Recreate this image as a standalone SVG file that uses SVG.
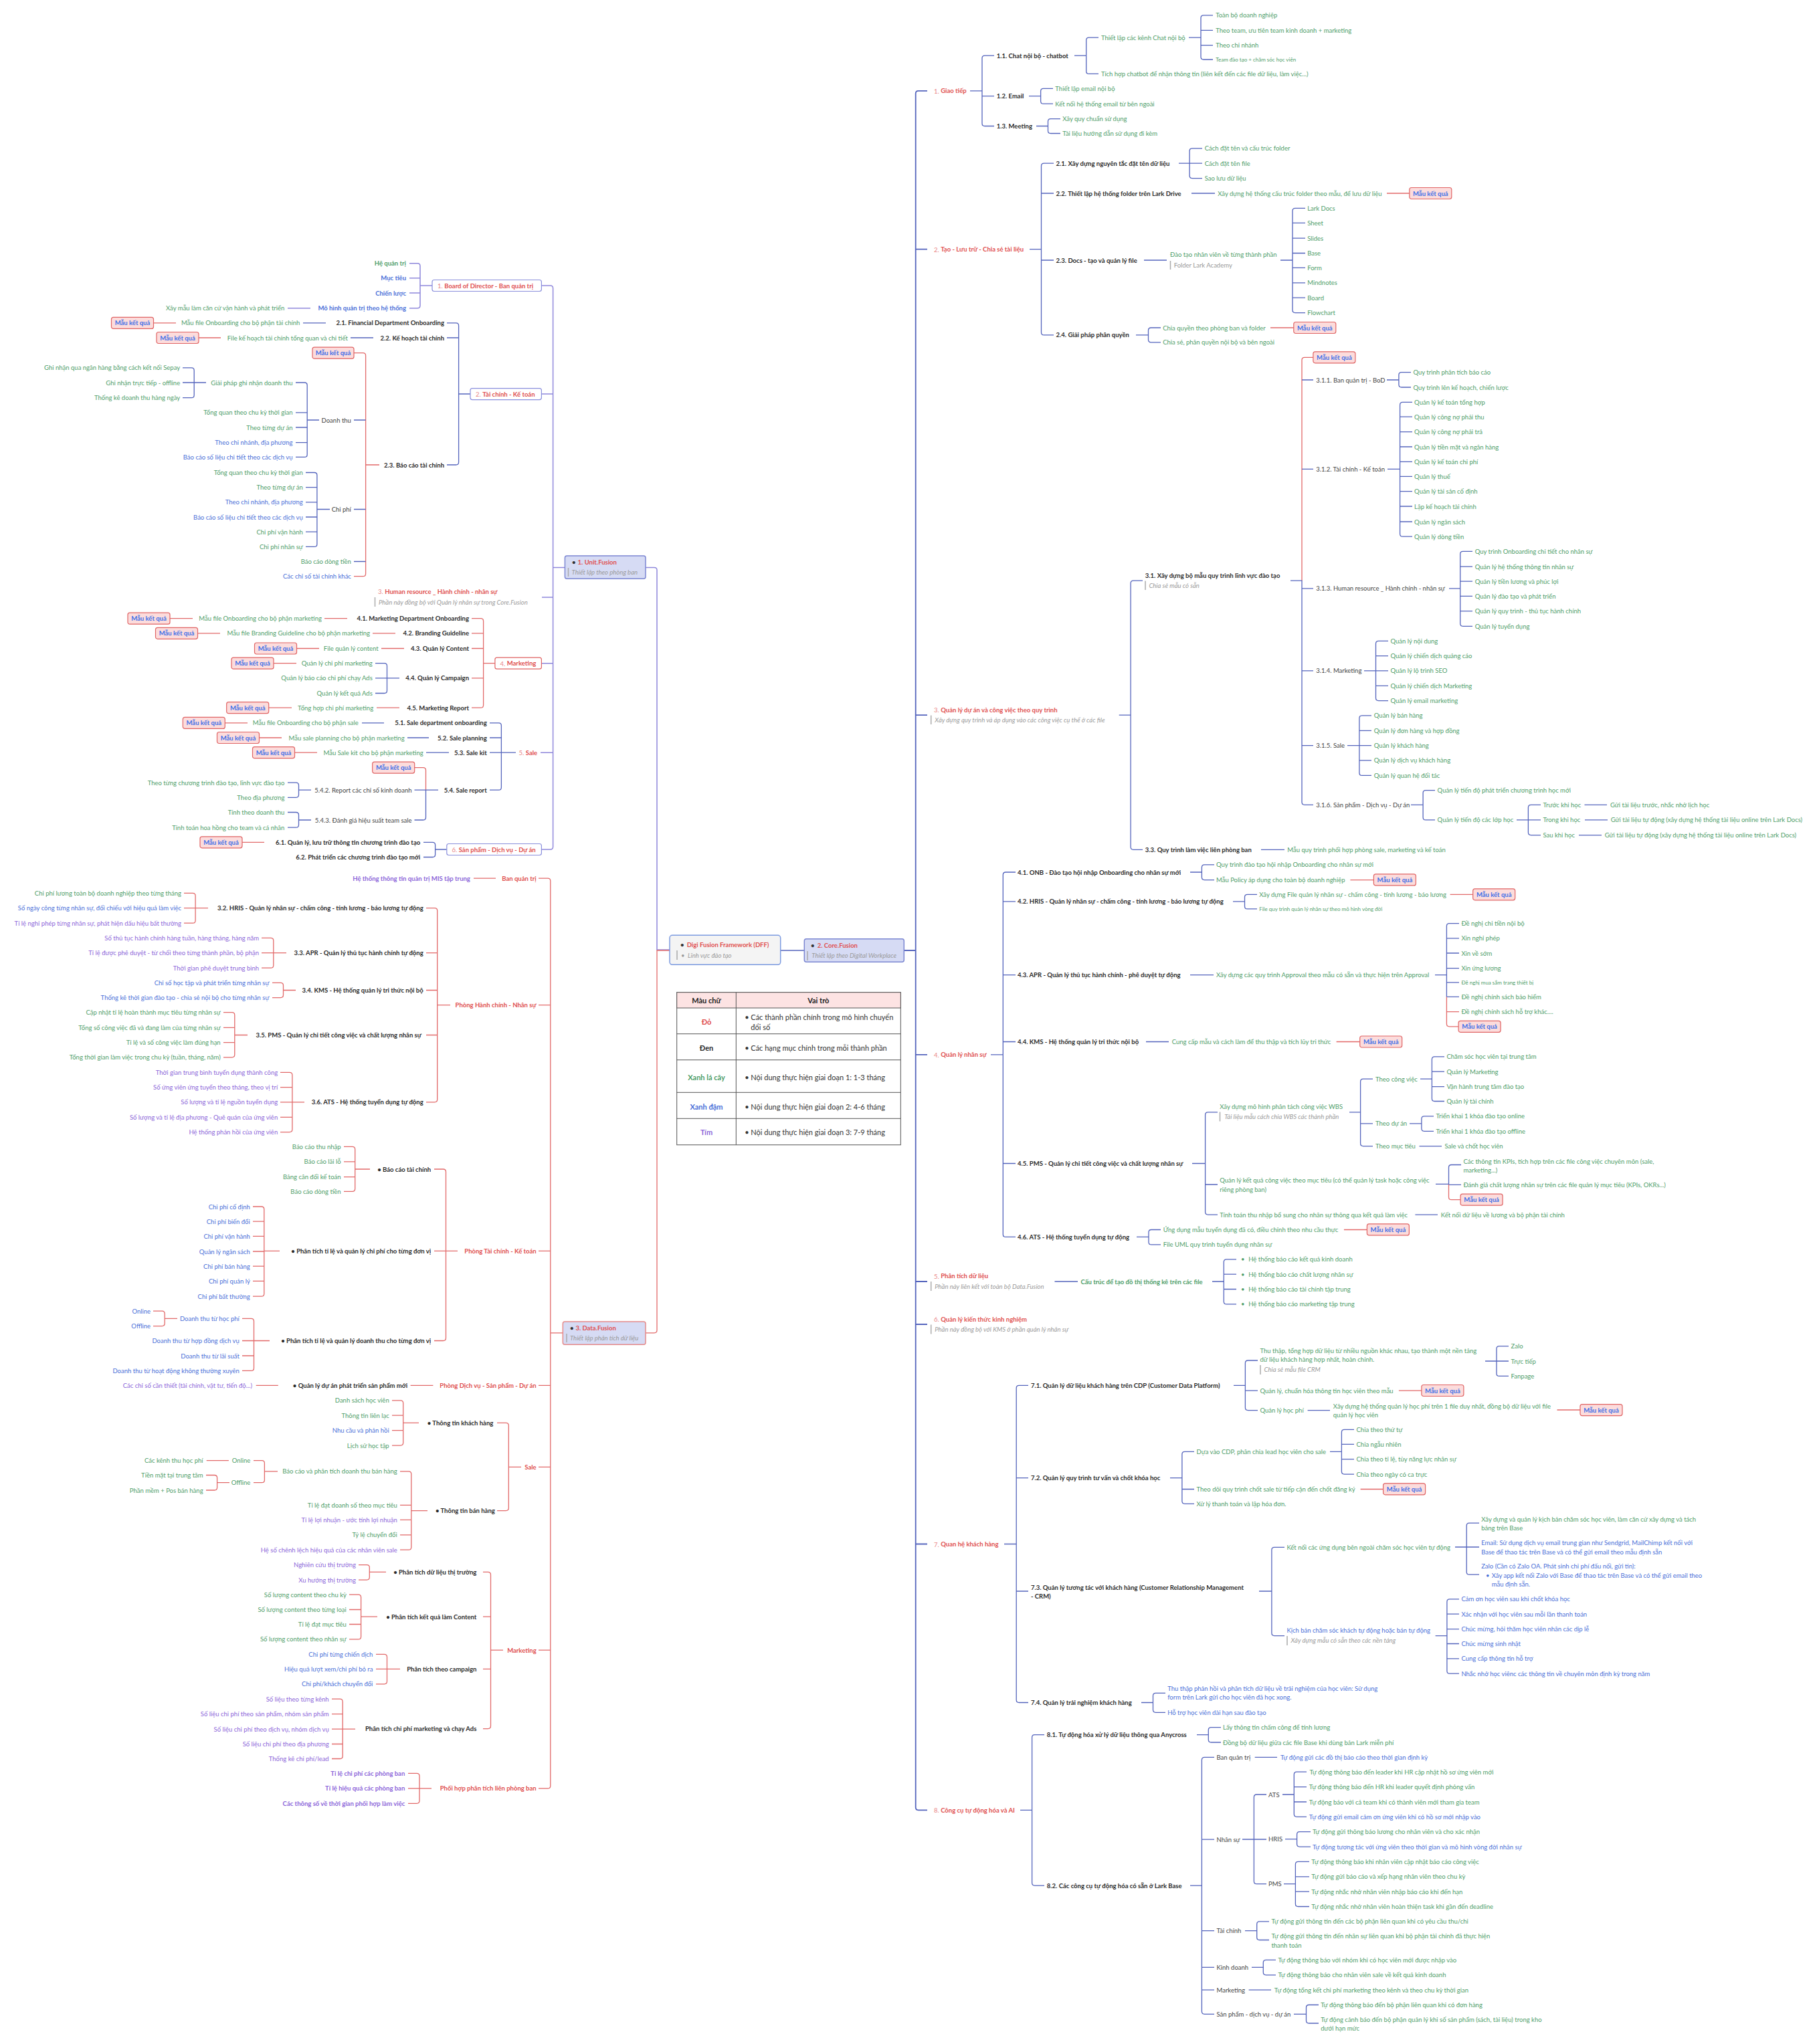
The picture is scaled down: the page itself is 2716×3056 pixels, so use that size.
<svg xmlns="http://www.w3.org/2000/svg" width="2716" height="3056" viewBox="0 0 2716 3056">
<style>
text{font-family:Lato,"Noto Sans","DejaVu Sans",sans-serif;font-size:9.5px;dominant-baseline:central;fill:#333}
.e{text-anchor:end}.mid{text-anchor:middle}
.g{fill:#4f9e6a}.b{fill:#4a6fd8}.p{fill:#8c66d9}.r{fill:#e04f4f;font-weight:700}.k{fill:#2b2b2b;font-weight:700}.d{fill:#444}.n{fill:#9a9a9a;font-style:italic}.B{font-weight:700}.l{fill:#e98686;font-weight:400}.s8{font-size:8px}
.c{fill:none;stroke:#5565bd;stroke-width:1.3}.cr{fill:none;stroke:#e26a6a;stroke-width:1.3}.cp{fill:none;stroke:#8f88db;stroke-width:1.5}.bar{stroke:#aaa;stroke-width:1.5}
.mk rect{fill:#fcdcdc;stroke:#e06464;stroke-width:1.2}.mk text{fill:#3d6fe8;font-weight:700;text-anchor:middle}
.box{fill:#fff;stroke:#8a8fdc;stroke-width:1.2}.main{fill:#d6dbf4;stroke:#7c87d2;stroke-width:1.5}
.tb text{font-size:11px}
</style>
<rect width="2716" height="3056" fill="#fff"/>

<g id="connectors">
<!-- center -->
<path class="cp" d="M965,848.6 H978 Q982,848.6 982,852.6 V1420 H1001"/>
<path class="cr" d="M1001,1421 H982 V1988.8 Q982,1992.8 978,1992.8 H965"/>
<path class="c" d="M1167,1421 H1202"/>
<!-- Unit.Fusion -->
<path class="cp" d="M809,427 H822.6 Q826.6,427 826.6,431 V1266 Q826.6,1270 822.6,1270 H809 M809,589 H826.6 M810,893 H826.6 M809,991.7 H826.6 M808,1125.2 H826.6 M826.6,848.6 H844"/>
<path class="cp" d="M612,393.7 H624 Q628,393.7 628,397.7 V456.7 Q628,460.7 624,460.7 H612 M612,415.8 H628 M612,438 H628 M628,427 H646 M430,460.7 H464"/>
<path class="c" d="M668,482.9 H681.6 Q685.6,482.9 685.6,486.9 V691 Q685.6,695 681.6,695 H668 M668,505 H685.6 M685.6,589 H703 M453,482.9 H487 M524,505 H558"/>
<path class="cr" d="M229,482.9 H263 M296.6,505 H330"/>
<path class="cr" d="M529,527.7 H542.6 Q546.6,527.7 546.6,531.7 V857.7 Q546.6,861.7 542.6,861.7 H529 M546.6,695 H567"/>
<path class="c" d="M529,628 H546.6 M529,761.5 H546.6 M529,839.5 H546.6"/>
<path class="c" d="M442,572 H455.2 Q459.2,572 459.2,576 V679.4 Q459.2,683.4 455.2,683.4 H442 M442,616.9 H459.2 M442,639 H459.2 M442,661.7 H459.2 M459.2,628 H477"/>
<path class="c" d="M273,549.9 H286.2 Q290.2,549.9 290.2,553.9 V590.7 Q290.2,594.7 286.2,594.7 H273 M273,572 H308"/>
<path class="c" d="M457,706.5 H469.9 Q473.9,706.5 473.9,710.5 V813.4 Q473.9,817.4 469.9,817.4 H457 M457,728.7 H473.9 M457,750.9 H473.9 M457,773 H473.9 M457,795.2 H473.9 M473.9,761.5 H493"/>
<path class="cr" d="M705,924.7 H718.6 Q722.6,924.7 722.6,928.7 V1054.2 Q722.6,1058.2 718.6,1058.2 H705 M705,946.8 H722.6 M705,969.5 H722.6 M705,1013.9 H722.6 M722.6,991.7 H740 M485,924.7 H519 M557,946.8 H591 M570,969.5 H604 M563,1058.2 H597 M253.8,924.7 H288 M295.3,946.8 H329 M443.3,969.5 H477 M408.8,991.7 H443 M401.8,1058.2 H436"/>
<path class="c" d="M561,991.7 H574.5 Q578.5,991.7 578.5,995.7 V1032.5 Q578.5,1036.5 574.5,1036.5 H561 M561,1013.9 H597"/>
<path class="c" d="M732,1080.9 H745.4 Q749.4,1080.9 749.4,1084.9 V1177.2 Q749.4,1181.2 745.4,1181.2 H732 M732,1103 H749.4 M732,1125.2 H771 M541,1080.9 H574 M609,1103 H641 M637,1125.2 H671"/>
<path class="cr" d="M336.1,1080.9 H370 M387.1,1103 H421 M440.1,1125.2 H474 M619.3,1147.6 H632.5 Q636.5,1147.6 636.5,1151.6 V1181.2 M361.6,1259.3 H395"/>
<path class="c" d="M636.5,1181.2 V1222 Q636.5,1226 632.5,1226 H619.5 M619.5,1181.2 H655"/>
<path class="c" d="M430,1170.2 H442.5 Q446.5,1170.2 446.5,1174.2 V1188.3 Q446.5,1192.3 442.5,1192.3 H430 M446.5,1181.2 H465 M430,1214.5 H442.5 Q446.5,1214.5 446.5,1218.5 V1233.2 Q446.5,1237.2 442.5,1237.2 H430 M446.5,1226 H465"/>
<path class="c" d="M633,1259.3 H646.6 Q650.6,1259.3 650.6,1263.3 V1277.5 Q650.6,1281.5 646.6,1281.5 H633 M650.6,1270 H668"/>
<!-- Data.Fusion -->
<path class="cr" d="M805,1313.2 H818.8 Q822.8,1313.2 822.8,1317.2 V2669.9 Q822.8,2673.9 818.8,2673.9 H805 M805,1502.7 H822.8 M805,1870.4 H822.8 M805,2071.3 H822.8 M805,2193.3 H822.8 M805,2467.2 H822.8 M822.8,1992.8 H841 M708,1313.2 H741"/>
<path class="cr" d="M637,1357.6 H649.7 Q653.7,1357.6 653.7,1361.6 V1643.8 Q653.7,1647.8 649.7,1647.8 H637 M637,1424.6 H653.7 M637,1480.5 H653.7 M637,1547.5 H653.7 M653.7,1502.7 H673"/>
<path class="cr" d="M275,1335.4 H288.1 Q292.1,1335.4 292.1,1339.4 V1376.2 Q292.1,1380.2 288.1,1380.2 H275 M275,1357.6 H311"/>
<path class="cr" d="M391,1402.4 H404.8 Q408.8,1402.4 408.8,1406.4 V1443.2 Q408.8,1447.2 404.8,1447.2 H391 M391,1424.6 H428"/>
<path class="cr" d="M407,1469.4 H419.5 Q423.5,1469.4 423.5,1473.4 V1487.6 Q423.5,1491.6 419.5,1491.6 H407 M423.5,1480.5 H442"/>
<path class="cr" d="M334,1513.7 H346.8 Q350.8,1513.7 350.8,1517.7 V1576.8 Q350.8,1580.8 346.8,1580.8 H334 M334,1536.4 H350.8 M334,1558.6 H350.8 M350.8,1547.5 H370"/>
<path class="cr" d="M419,1603.4 H432.9 Q436.9,1603.4 436.9,1607.4 V1688.6 Q436.9,1692.6 432.9,1692.6 H419 M419,1625.6 H436.9 M419,1647.8 H455 M419,1670.4 H436.9"/>
<path class="cr" d="M649,1748 H662.5 Q666.5,1748 666.5,1752 V2000.5 Q666.5,2004.5 662.5,2004.5 H649 M649,1870.4 H684"/>
<path class="cr" d="M514,1714.3 H526.7 Q530.7,1714.3 530.7,1718.3 V1777.3 Q530.7,1781.3 526.7,1781.3 H514 M514,1736.9 H530.7 M514,1759.6 H530.7 M530.7,1748 H553"/>
<path class="cr" d="M378,1804 H390.8 Q394.8,1804 394.8,1808 V1934.2 Q394.8,1938.2 390.8,1938.2 H378 M378,1826.1 H394.8 M378,1848.3 H394.8 M378,1871 H394.8 M378,1893.1 H394.8 M378,1915.3 H394.8 M394.8,1870.4 H418"/>
<path class="cr" d="M362,1971.3 H375.5 Q379.5,1971.3 379.5,1975.3 V2045.4 Q379.5,2049.4 375.5,2049.4 H362 M362,2004.5 H403 M362,2027 H379.5"/>
<path class="cr" d="M229,1960.1 H242.2 Q246.2,1960.1 246.2,1964.1 V1978.6 Q246.2,1982.6 242.2,1982.6 H229 M246.2,1971.3 H265"/>
<path class="cr" d="M613.6,2071.3 H647.4 M382.7,2071.3 H415.8"/>
<path class="cr" d="M743,2127.4 H756.3 Q760.3,2127.4 760.3,2131.4 V2254.6 Q760.3,2258.6 756.3,2258.6 H743 M760.3,2193.3 H779"/>
<path class="cr" d="M586,2093.8 H598.7 Q602.7,2093.8 602.7,2097.8 V2157.1 Q602.7,2161.1 598.7,2161.1 H586 M586,2116.2 H602.7 M586,2138.7 H602.7 M602.7,2127.4 H626"/>
<path class="cr" d="M598,2199.9 H610.8 Q614.8,2199.9 614.8,2203.9 V2313.2 Q614.8,2317.2 610.8,2317.2 H598 M598,2250.4 H614.8 M598,2272.3 H614.8 M598,2294.8 H614.8 M614.8,2258.6 H639"/>
<path class="cr" d="M379,2183.6 H391.4 Q395.4,2183.6 395.4,2187.6 V2212.7 Q395.4,2216.7 391.4,2216.7 H379 M395.4,2199.9 H415 M308.7,2183.6 H341.9"/>
<path class="cr" d="M308,2205.5 H320.6 Q324.6,2205.5 324.6,2209.5 V2224 Q324.6,2228 320.6,2228 H308 M324.6,2216.7 H343"/>
<path class="cr" d="M722,2350.4 H729.5 Q733.5,2350.4 733.5,2354.4 V2580.6 Q733.5,2584.6 729.5,2584.6 H722 M722,2417.2 H733.5 M722,2495.3 H733.5 M733.5,2467.2 H752"/>
<path class="cr" d="M536,2339.7 H548.3 Q552.3,2339.7 552.3,2343.7 V2358.1 Q552.3,2362.1 548.3,2362.1 H536 M552.3,2350.4 H577"/>
<path class="cr" d="M522,2384.1 H535.6 Q539.6,2384.1 539.6,2388.1 V2446.9 Q539.6,2450.9 535.6,2450.9 H522 M522,2406.5 H539.6 M522,2428.5 H539.6 M539.6,2417.2 H564"/>
<path class="cr" d="M562,2473.4 H574.5 Q578.5,2473.4 578.5,2477.4 V2513.8 Q578.5,2517.8 574.5,2517.8 H562 M562,2495.3 H598"/>
<path class="cr" d="M496,2540.2 H508.2 Q512.2,2540.2 512.2,2544.2 V2625.5 Q512.2,2629.5 508.2,2629.5 H496 M496,2562.6 H512.2 M496,2585.1 H531 M496,2607.5 H512.2"/>
<path class="cr" d="M610,2651.4 H623 Q627,2651.4 627,2655.4 V2692.3 Q627,2696.3 623,2696.3 H610 M610,2673.9 H645"/>
<!-- Core.Fusion -->
<path class="c" style="stroke-width:1.8" d="M1386,135.8 H1372.7 Q1368.7,135.8 1368.7,139.8 V2702.3 Q1368.7,2706.3 1372.7,2706.3 H1386 M1368.7,372.6 H1386 M1368.7,1069.2 H1386 M1368.7,1576.9 H1386 M1368.7,1916 H1386 M1368.7,1980 H1386 M1368.7,2308.5 H1386 M1351,1421 H1368.7"/>
<path class="c" d="M1486,83.1 H1472 Q1468,83.1 1468,87.1 V184.5 Q1468,188.5 1472,188.5 H1486 M1468,143.7 H1486 M1450,135.8 H1468"/>
<path class="c" d="M1642,56.2 H1627.7 Q1623.7,56.2 1623.7,60.2 V106.4 Q1623.7,110.4 1627.7,110.4 H1642 M1606,83.1 H1623.7"/>
<path class="c" d="M1813,22.9 H1799 Q1795,22.9 1795,26.9 V85 Q1795,89 1799,89 H1813 M1795,45.3 H1813 M1795,67.6 H1813 M1777,56.2 H1795"/>
<path class="c" d="M1574,132.3 H1559.6 Q1555.6,132.3 1555.6,136.3 V151.2 Q1555.6,155.2 1559.6,155.2 H1574 M1538,143.7 H1555.6"/>
<path class="c" d="M1585,177.6 H1570.5 Q1566.5,177.6 1566.5,181.6 V195.5 Q1566.5,199.5 1570.5,199.5 H1585 M1549,188.5 H1566.5"/>
<path class="c" d="M1575,244.2 H1560.5 Q1556.5,244.2 1556.5,248.2 V496.9 Q1556.5,500.9 1560.5,500.9 H1575 M1556.5,289 H1575 M1556.5,389 H1575 M1539,372.6 H1556.5"/>
<path class="c" d="M1797,221.8 H1782.1 Q1778.1,221.8 1778.1,225.8 V262.6 Q1778.1,266.6 1782.1,266.6 H1797 M1762,244.2 H1797 M1781,289 H1816 M1710,389 H1744"/>
<path class="cr" d="M2073,289 H2107 M1899,490 H1934"/>
<path class="c" d="M1951,311.4 H1936 Q1932,311.4 1932,315.4 V463.6 Q1932,467.6 1936,467.6 H1951 M1932,333.3 H1951 M1932,356.1 H1951 M1932,378.5 H1951 M1932,400.4 H1951 M1932,422.8 H1951 M1932,445.2 H1951 M1914,389 H1932"/>
<path class="c" d="M1735,490 H1720.5 Q1716.5,490 1716.5,494 V507.8 Q1716.5,511.8 1720.5,511.8 H1735 M1698,500.9 H1716.5"/>
<path class="c" d="M1708,868.2 H1694.1 Q1690.1,868.2 1690.1,872.2 V1266.3 Q1690.1,1270.3 1694.1,1270.3 H1708 M1672.7,1069.2 H1690.1 M1885,1270.3 H1920"/>
<path class="cr" d="M1963,534.3 H1950 Q1946,534.3 1946,538.3 V868.2"/>
<path class="c" d="M1946,568 H1963 M1946,701.3 H1963 M1929,868.2 H1946 V1199.3 Q1946,1203.3 1950,1203.3 H1963 M1946,879.8 H1963 M1946,1002.8 H1963 M1946,1114.6 H1963"/>
<path class="c" d="M2109,556.6 H2094.9 Q2090.9,556.6 2090.9,560.6 V575 Q2090.9,579 2094.9,579 H2109 M2073,568 H2090.9"/>
<path class="c" d="M2111,601.4 H2096.6 Q2092.6,601.4 2092.6,605.4 V798.2 Q2092.6,802.2 2096.6,802.2 H2111 M2092.6,623.2 H2111 M2092.6,645.6 H2111 M2092.6,668 H2111 M2092.6,690.4 H2111 M2092.6,712.3 H2111 M2092.6,734.6 H2111 M2092.6,757 H2111 M2092.6,780 H2111 M2074,701.3 H2092.6"/>
<path class="c" d="M2201,824.4 H2186.7 Q2182.7,824.4 2182.7,828.4 V932.3 Q2182.7,936.3 2186.7,936.3 H2201 M2182.7,847.1 H2201 M2182.7,869.2 H2201 M2182.7,891.4 H2201 M2182.7,913.6 H2201 M2166,879.8 H2182.7"/>
<path class="c" d="M2075,958.4 H2060.5 Q2056.5,958.4 2056.5,962.4 V1043.6 Q2056.5,1047.6 2060.5,1047.6 H2075 M2056.5,980.6 H2075 M2039,1002.8 H2075 M2056.5,1025.4 H2075"/>
<path class="c" d="M2050,1069.8 H2035.9 Q2031.9,1069.8 2031.9,1073.8 V1155.4 Q2031.9,1159.4 2035.9,1159.4 H2050 M2031.9,1092.4 H2050 M2014,1114.6 H2050 M2031.9,1136.8 H2050"/>
<path class="c" d="M2145,1181.6 H2131.1 Q2127.1,1181.6 2127.1,1185.6 V1221.9 Q2127.1,1225.9 2131.1,1225.9 H2145 M2109,1203.3 H2127.1"/>
<path class="c" d="M2303,1203.3 H2288.4 Q2284.4,1203.3 2284.4,1207.3 V1244.6 Q2284.4,1248.6 2288.4,1248.6 H2303 M2267,1225.9 H2303 M2368.5,1203.3 H2402 M2369,1225.9 H2403 M2360,1248.6 H2394"/>
<path class="c" d="M1518,1304 H1503.3 Q1499.3,1304 1499.3,1308 V1845.4 Q1499.3,1849.4 1503.3,1849.4 H1518 M1499.3,1347.9 H1518 M1499.3,1457.7 H1518 M1499.3,1557.5 H1518 M1499.3,1739.5 H1518 M1481,1576.9 H1499.3"/>
<path class="c" d="M1815,1292.9 H1800.4 Q1796.4,1292.9 1796.4,1296.9 V1311.6 Q1796.4,1315.6 1800.4,1315.6 H1815 M1779,1304 H1796.4"/>
<path class="c" d="M1879,1337.3 H1864.5 Q1860.5,1337.3 1860.5,1341.3 V1354.9 Q1860.5,1358.9 1864.5,1358.9 H1879 M1843,1347.9 H1860.5 M1779,1457.7 H1814 M1713,1557.5 H1747"/>
<path class="cr" d="M2018.4,1315.6 H2053.4 M2167.6,1337.3 H2201.7 M1997.6,1557.5 H2032.7 M2008.9,1838.5 H2043.4"/>
<path class="c" d="M2181,1380.6 H2166.4 Q2162.4,1380.6 2162.4,1384.6 V1490.4 M2162.4,1402.8 H2181 M2162.4,1425 H2181 M2162.4,1447.6 H2181 M2162.4,1468.8 H2181 M2162.4,1490.4 H2181 M2145,1457.7 H2162.4"/>
<path class="cr" d="M2162.4,1490.4 V1530.8 Q2162.4,1534.8 2166.4,1534.8 H2180 M2162.4,1512.6 H2181"/>
<path class="c" d="M1820,1662.9 H1805.6 Q1801.6,1662.9 1801.6,1666.9 V1812.1 Q1801.6,1816.1 1805.6,1816.1 H1820 M1801.6,1771 H1820 M1782,1739.5 H1801.6"/>
<path class="c" d="M2052,1613.2 H2037.6 Q2033.6,1613.2 2033.6,1617.2 V1709.6 Q2033.6,1713.6 2037.6,1713.6 H2052 M2033.6,1679.8 H2052 M2017,1662.9 H2033.6"/>
<path class="c" d="M2159,1579.8 H2144.4 Q2140.4,1579.8 2140.4,1583.8 V1642.5 Q2140.4,1646.5 2144.4,1646.5 H2159 M2140.4,1602.2 H2159 M2140.4,1624.6 H2159 M2123,1613.2 H2140.4"/>
<path class="c" d="M2143,1668.9 H2128.9 Q2124.9,1668.9 2124.9,1672.9 V1687.3 Q2124.9,1691.3 2128.9,1691.3 H2143 M2107,1679.8 H2124.9 M2121.5,1713.6 H2155"/>
<path class="c" d="M2184,1741.5 H2169.5 Q2165.5,1741.5 2165.5,1745.5 V1771 M2165.5,1771.3 H2184 M2146,1770.3 H2165.5 M2115.4,1816.1 H2149"/>
<path class="cr" d="M2165.5,1771 V1789.7 Q2165.5,1793.7 2169.5,1793.7 H2183"/>
<path class="c" d="M1735,1838.5 H1721 Q1717,1838.5 1717,1842.5 V1856.9 Q1717,1860.9 1721,1860.9 H1735 M1699,1849.4 H1717"/>
<path class="c" d="M1576.5,1916 H1611 M1848,1882.8 H1833.3 Q1829.3,1882.8 1829.3,1886.8 V1945.9 Q1829.3,1949.9 1833.3,1949.9 H1848 M1829.3,1905.1 H1848 M1829.3,1927.5 H1848 M1812,1916 H1829.3"/>
<path class="c" d="M1537,2071.3 H1523.2 Q1519.2,2071.3 1519.2,2075.3 V2541.5 Q1519.2,2545.5 1523.2,2545.5 H1537 M1519.2,2209.6 H1537 M1519.2,2379 H1537 M1501,2308.5 H1519.2"/>
<path class="c" d="M1880,2034 H1865.4 Q1861.4,2034 1861.4,2038 V2104.6 Q1861.4,2108.6 1865.4,2108.6 H1880 M1861.4,2079.2 H1880 M1844,2071.3 H1861.4"/>
<path class="c" d="M2255,2012.6 H2241 Q2237,2012.6 2237,2016.6 V2053.4 Q2237,2057.4 2241,2057.4 H2255 M2220,2035 H2255 M1954.6,2108.6 H1988"/>
<path class="cr" d="M2090.9,2079.2 H2125 M2327.5,2108 H2362 M2033.6,2226.5 H2067.6"/>
<path class="c" d="M1785,2170.3 H1770.9 Q1766.9,2170.3 1766.9,2174.3 V2244.3 Q1766.9,2248.3 1770.9,2248.3 H1785 M1766.9,2226.5 H1785 M1749,2209.6 H1766.9"/>
<path class="c" d="M2024,2137.4 H2009.4 Q2005.4,2137.4 2005.4,2141.4 V2200.1 Q2005.4,2204.1 2009.4,2204.1 H2024 M2005.4,2159.3 H2024 M2005.4,2181.7 H2024 M1988,2170.3 H2005.4"/>
<path class="c" d="M1920,2313.3 H1904.9 Q1900.9,2313.3 1900.9,2317.3 V2441.6 Q1900.9,2445.6 1904.9,2445.6 H1920 M1882,2379 H1900.9"/>
<path class="c" d="M2211,2277.2 H2196.2 Q2192.2,2277.2 2192.2,2281.2 V2350.2 Q2192.2,2354.2 2196.2,2354.2 H2211 M2175,2313 H2211"/>
<path class="c" d="M2181,2390.9 H2166.9 Q2162.9,2390.9 2162.9,2394.9 V2498.2 Q2162.9,2502.2 2166.9,2502.2 H2181 M2162.9,2413.2 H2181 M2162.9,2435.6 H2181 M2162.9,2457.5 H2181 M2162.9,2479.9 H2181 M2145.6,2445.6 H2162.9"/>
<path class="c" d="M1742,2531.3 H1727.5 Q1723.5,2531.3 1723.5,2535.3 V2556.3 Q1723.5,2560.3 1727.5,2560.3 H1742 M1706,2545.5 H1723.5"/>
<path class="c" d="M1561,2593.6 H1546.6 Q1542.6,2593.6 1542.6,2597.6 V2815.1 Q1542.6,2819.1 1546.6,2819.1 H1561 M1525,2706.3 H1542.6"/>
<path class="c" d="M1825,2582.6 H1810.3 Q1806.3,2582.6 1806.3,2586.6 V2601 Q1806.3,2605 1810.3,2605 H1825 M1789,2593.6 H1806.3"/>
<path class="c" d="M1815,2627.4 H1800.4 Q1796.4,2627.4 1796.4,2631.4 V3007.3 Q1796.4,3011.3 1800.4,3011.3 H1815 M1796.4,2750.1 H1815 M1796.4,2886.7 H1815 M1796.4,2941.4 H1815 M1796.4,2975.2 H1815 M1779,2819.1 H1796.4 M1875.7,2627.4 H1909 M1866.6,2975.2 H1900"/>
<path class="c" d="M1893,2683 H1878.4 Q1874.4,2683 1874.4,2687 V2812.7 Q1874.4,2816.7 1878.4,2816.7 H1893 M1857,2750 H1893"/>
<path class="c" d="M1953,2649.2 H1938.3 Q1934.3,2649.2 1934.3,2653.2 V2712.3 Q1934.3,2716.3 1938.3,2716.3 H1953 M1934.3,2671.6 H1953 M1934.3,2694 H1953 M1917,2683 H1934.3"/>
<path class="c" d="M1959,2738.7 H1942.6 Q1938.6,2738.7 1938.6,2742.7 V2757.1 Q1938.6,2761.1 1942.6,2761.1 H1959 M1921,2749.6 H1938.6"/>
<path class="c" d="M1957,2783.4 H1940.4 Q1936.4,2783.4 1936.4,2787.4 V2846.5 Q1936.4,2850.5 1940.4,2850.5 H1957 M1936.4,2805.8 H1957 M1936.4,2828.1 H1957 M1919,2816.7 H1936.4"/>
<path class="c" d="M1897,2872.9 H1882.7 Q1878.7,2872.9 1878.7,2876.9 V2896.5 Q1878.7,2900.5 1882.7,2900.5 H1897 M1861,2886.7 H1878.7"/>
<path class="c" d="M1907,2930.4 H1892.3 Q1888.3,2930.4 1888.3,2934.4 V2948.8 Q1888.3,2952.8 1892.3,2952.8 H1907 M1871,2941.4 H1888.3"/>
<path class="c" d="M1971,2997.5 H1956.5 Q1952.5,2997.5 1952.5,3001.5 V3021 Q1952.5,3025 1956.5,3025 H1971 M1934,3011.3 H1952.5"/>
</g>

<g id="center">
<g id="dff">
<rect x="1001" y="1398.3" width="165.7" height="44" rx="4" fill="#f4f4f4" stroke="#7d9be0" stroke-width="1.5"/>
<text x="1017" y="1412.5" class="B">•</text><text x="1026.7" y="1412.5" class="r">Digi Fusion Framework (DFF)</text>
<line class="bar" x1="1012" y1="1421" x2="1012" y2="1435"/>
<text x="1018" y="1428" class="n">•</text><text x="1028" y="1428" class="n">Lĩnh vực đào tạo</text>
</g>
<g id="core">
<rect x="1202.3" y="1403.7" width="149" height="34.6" rx="3" class="main"/>
<text x="1212" y="1413" class="B">•</text><text x="1221.7" y="1413" class="r">2. Core.Fusion</text>
<line class="bar" x1="1207" y1="1422" x2="1207" y2="1436"/>
<text x="1213.3" y="1428.5" class="n">Thiết lập theo Digital Workplace</text>
</g>
<g id="unit">
<rect x="844.4" y="831" width="120.6" height="34.2" rx="3" class="main"/>
<text x="855" y="840" class="B">•</text><text x="863.6" y="840" class="r">1. Unit.Fusion</text>
<line class="bar" x1="849.5" y1="849" x2="849.5" y2="862"/>
<text x="854.6" y="855.7" class="n">Thiết lập theo phòng ban</text>
</g>
<g id="data">
<rect x="841.3" y="1976" width="123.7" height="34.2" rx="3" fill="#d6dbf4" stroke="#e58a8a" stroke-width="1.5"/>
<text x="852" y="1985.1" class="B">•</text><text x="860.4" y="1985.1" class="r">3. Data.Fusion</text>
<line class="bar" x1="847" y1="1994" x2="847" y2="2007"/>
<text x="852" y="2000.4" class="n">Thiết lập phân tích dữ liệu</text>
</g>
</g>

<g id="legend" class="tb">
<rect x="1011.7" y="1483.7" width="334.6" height="228" fill="#fff" stroke="#555"/>
<rect x="1011.7" y="1483.7" width="334.6" height="23.3" fill="#fde3e3" stroke="#555"/>
<path d="M1100.3,1483.7 V1711.7 M1011.7,1545.7 H1346.3 M1011.7,1584.7 H1346.3 M1011.7,1633.3 H1346.3 M1011.7,1672.3 H1346.3" stroke="#555" fill="none"/>
<text x="1056" y="1495.5" class="mid B" style="fill:#222">Màu chữ</text>
<text x="1223.3" y="1495.5" class="mid B" style="fill:#222">Vai trò</text>
<text x="1056" y="1527.7" class="mid r">Đỏ</text>
<text x="1056" y="1566.7" class="mid k">Đen</text>
<text x="1056" y="1610" class="mid g B">Xanh lá cây</text>
<text x="1056" y="1654" class="mid b B">Xanh đậm</text>
<text x="1056" y="1692.7" class="mid p B">Tím</text>
<text x="1113.3" y="1520.5">•</text><text x="1122.3" y="1520.5">Các thành phần chính trong mô hình chuyển</text>
<text x="1122.3" y="1535">đổi số</text>
<text x="1113.3" y="1566">•</text><text x="1122.3" y="1566">Các hạng mục chính trong mỗi thành phần</text>
<text x="1113.3" y="1610">•</text><text x="1122.3" y="1610">Nội dung thực hiện giai đoạn 1: 1-3 tháng</text>
<text x="1113.3" y="1654">•</text><text x="1122.3" y="1654">Nội dung thực hiện giai đoạn 2: 4-6 tháng</text>
<text x="1113.3" y="1692.7">•</text><text x="1122.3" y="1692.7">Nội dung thực hiện giai đoạn 3: 7-9 tháng</text>
</g>

<g id="mau-ket-qua">
<g class="mk" transform="translate(166.5,482.9)"><rect y="-8.5" width="63" height="17" rx="3"/><text x="31.5">Mẫu kết quả</text></g>
<g class="mk" transform="translate(234,505)"><rect y="-8.5" width="63" height="17" rx="3"/><text x="31.5">Mẫu kết quả</text></g>
<g class="mk" transform="translate(467,527.7)"><rect y="-8.5" width="62" height="17" rx="3"/><text x="31">Mẫu kết quả</text></g>
<g class="mk" transform="translate(191,924.7)"><rect y="-8.5" width="63" height="17" rx="3"/><text x="31.5">Mẫu kết quả</text></g>
<g class="mk" transform="translate(232.5,946.8)"><rect y="-8.5" width="63" height="17" rx="3"/><text x="31.5">Mẫu kết quả</text></g>
<g class="mk" transform="translate(380.5,969.5)"><rect y="-8.5" width="63" height="17" rx="3"/><text x="31.5">Mẫu kết quả</text></g>
<g class="mk" transform="translate(346,991.7)"><rect y="-8.5" width="63" height="17" rx="3"/><text x="31.5">Mẫu kết quả</text></g>
<g class="mk" transform="translate(338.7,1058.2)"><rect y="-8.5" width="63" height="17" rx="3"/><text x="31.5">Mẫu kết quả</text></g>
<g class="mk" transform="translate(273.3,1080.9)"><rect y="-8.5" width="63" height="17" rx="3"/><text x="31.5">Mẫu kết quả</text></g>
<g class="mk" transform="translate(324.5,1103)"><rect y="-8.5" width="63" height="17" rx="3"/><text x="31.5">Mẫu kết quả</text></g>
<g class="mk" transform="translate(377.5,1125.2)"><rect y="-8.5" width="63" height="17" rx="3"/><text x="31.5">Mẫu kết quả</text></g>
<g class="mk" transform="translate(556.7,1147.6)"><rect y="-8.5" width="63" height="17" rx="3"/><text x="31.5">Mẫu kết quả</text></g>
<g class="mk" transform="translate(299,1259.3)"><rect y="-8.5" width="63" height="17" rx="3"/><text x="31.5">Mẫu kết quả</text></g>
<g class="mk" transform="translate(2106.8,289)"><rect y="-8.5" width="63" height="17" rx="3"/><text x="31.5">Mẫu kết quả</text></g>
<g class="mk" transform="translate(1933.8,490)"><rect y="-8.5" width="63" height="17" rx="3"/><text x="31.5">Mẫu kết quả</text></g>
<g class="mk" transform="translate(1962.9,534.3)"><rect y="-8.5" width="63" height="17" rx="3"/><text x="31.5">Mẫu kết quả</text></g>
<g class="mk" transform="translate(2053.4,1315.4)"><rect y="-8.5" width="63" height="17" rx="3"/><text x="31.5">Mẫu kết quả</text></g>
<g class="mk" transform="translate(2201.7,1337.3)"><rect y="-8.5" width="63" height="17" rx="3"/><text x="31.5">Mẫu kết quả</text></g>
<g class="mk" transform="translate(2180.1,1534.8)"><rect y="-8.5" width="63" height="17" rx="3"/><text x="31.5">Mẫu kết quả</text></g>
<g class="mk" transform="translate(2032.7,1557.5)"><rect y="-8.5" width="63" height="17" rx="3"/><text x="31.5">Mẫu kết quả</text></g>
<g class="mk" transform="translate(2183.1,1793.7)"><rect y="-8.5" width="63" height="17" rx="3"/><text x="31.5">Mẫu kết quả</text></g>
<g class="mk" transform="translate(2043.4,1838.4)"><rect y="-8.5" width="63" height="17" rx="3"/><text x="31.5">Mẫu kết quả</text></g>
<g class="mk" transform="translate(2124.9,2079)"><rect y="-8.5" width="63" height="17" rx="3"/><text x="31.5">Mẫu kết quả</text></g>
<g class="mk" transform="translate(2362,2108.1)"><rect y="-8.5" width="63" height="17" rx="3"/><text x="31.5">Mẫu kết quả</text></g>
<g class="mk" transform="translate(2067.6,2226.3)"><rect y="-8.5" width="63" height="17" rx="3"/><text x="31.5">Mẫu kết quả</text></g>
</g>

<g id="unit-fusion">
<g id="u-bod">
<rect x="646" y="418.5" width="163.4" height="17" rx="3" class="box"/>
<text x="654" y="427" class="r"><tspan class="l">1. </tspan>Board of Director - Ban quản trị</text>
<text x="607" y="393.7" class="e g B">Hệ quản trị</text>
<text x="607" y="415.8" class="e b B">Mục tiêu</text>
<text x="607" y="438" class="e b B">Chiến lược</text>
<text x="607" y="460.7" class="e b B">Mô hình quản trị theo hệ thống</text>
<text x="425.4" y="460.7" class="e g">Xây mẫu làm căn cứ vận hành và phát triển</text>
</g>
<g id="u-taichinh">
<rect x="703" y="580.6" width="106.4" height="17" rx="3" class="box"/>
<text x="711" y="589" class="r"><tspan class="l">2. </tspan>Tài chính - Kế toán</text>
<text x="664" y="482.9" class="e k">2.1. Financial Department Onboarding</text>
<text x="448.4" y="482.9" class="e g">Mẫu file Onboarding cho bộ phận tài chính</text>
<text x="664" y="505" class="e k">2.2. Kế hoạch tài chính</text>
<text x="519.8" y="505" class="e g">File kế hoạch tài chính tổng quan và chi tiết</text>
<text x="664" y="695" class="e k">2.3. Báo cáo tài chính</text>
<text x="524.9" y="628" class="e d">Doanh thu</text>
<text x="437.5" y="572" class="e g">Giải pháp ghi nhận doanh thu</text>
<text x="269.2" y="549.9" class="e g">Ghi nhận qua ngân hàng bằng cách kết nối Sepay</text>
<text x="269.2" y="572" class="e g">Ghi nhận trực tiếp - offline</text>
<text x="269.2" y="594.7" class="e g">Thống kê doanh thu hàng ngày</text>
<text x="437.5" y="616.9" class="e g">Tổng quan theo chu kỳ thời gian</text>
<text x="437.5" y="639" class="e g">Theo từng dự án</text>
<text x="437.5" y="661.7" class="e b">Theo chi nhánh, địa phương</text>
<text x="437.5" y="683.4" class="e b">Báo cáo số liệu chi tiết theo các dịch vụ</text>
<text x="524.9" y="761.5" class="e d">Chi phí</text>
<text x="452.8" y="706.5" class="e g">Tổng quan theo chu kỳ thời gian</text>
<text x="452.8" y="728.7" class="e g">Theo từng dự án</text>
<text x="452.8" y="750.9" class="e b">Theo chi nhánh, địa phương</text>
<text x="452.8" y="773" class="e b">Báo cáo số liệu chi tiết theo các dịch vụ</text>
<text x="452.8" y="795.2" class="e g">Chi phí vận hành</text>
<text x="452.8" y="817.4" class="e g">Chi phí nhân sự</text>
<text x="524.9" y="839.5" class="e g">Báo cáo dòng tiền</text>
<text x="524.9" y="861.7" class="e b">Các chỉ số tài chính khác</text>
</g>
<g id="u-hr">
<text x="565" y="884.4" class="r"><tspan class="l">3. </tspan>Human resource _ Hành chính - nhân sự</text>
<line class="bar" x1="560.5" y1="893" x2="560.5" y2="907"/>
<text x="566" y="900" class="n">Phần này đồng bộ với Quản lý nhân sự trong Core.Fusion</text>
</g>
<g id="u-marketing">
<rect x="739.9" y="983.2" width="69.5" height="17" rx="3" fill="#fff" stroke="#e06464" stroke-width="1.2"/>
<text x="747.5" y="991.7" class="r"><tspan class="l">4. </tspan>Marketing</text>
<text x="701" y="924.7" class="e k">4.1. Marketing Department Onboarding</text>
<text x="480.9" y="924.7" class="e g">Mẫu file Onboarding cho bộ phận marketing</text>
<text x="701" y="946.8" class="e k">4.2. Branding Guideline</text>
<text x="553" y="946.8" class="e g">Mẫu file Branding Guideline cho bộ phận marketing</text>
<text x="701" y="969.5" class="e k">4.3. Quản lý Content</text>
<text x="565.7" y="969.5" class="e g">File quản lý content</text>
<text x="701" y="1013.9" class="e k">4.4. Quản lý Campaign</text>
<text x="556.8" y="991.7" class="e g">Quản lý chi phí marketing</text>
<text x="556.8" y="1013.9" class="e g">Quản lý báo cáo chi phí chạy Ads</text>
<text x="556.8" y="1036.5" class="e g">Quản lý kết quả Ads</text>
<text x="701" y="1058.2" class="e k">4.5. Marketing Report</text>
<text x="558.1" y="1058.2" class="e g">Tổng hợp chi phí marketing</text>
</g>
<g id="u-sale">
<text x="775.6" y="1125.2" class="r"><tspan class="l">5. </tspan>Sale</text>
<text x="727.7" y="1080.9" class="e k">5.1. Sale department onboarding</text>
<text x="535.8" y="1080.9" class="e g">Mẫu file Onboarding cho bộ phận sale</text>
<text x="727.7" y="1103" class="e k">5.2. Sale planning</text>
<text x="604.6" y="1103" class="e g">Mẫu sale planning cho bộ phận marketing</text>
<text x="727.7" y="1125.2" class="e k">5.3. Sale kit</text>
<text x="632.7" y="1125.2" class="e g">Mẫu Sale kit cho bộ phận marketing</text>
<text x="727.7" y="1181.2" class="e k">5.4. Sale report</text>
<text x="615.5" y="1181.2" class="e d">5.4.2. Report các chỉ số kinh doanh</text>
<text x="425.4" y="1170.2" class="e g">Theo từng chương trình đào tạo, lĩnh vực đào tạo</text>
<text x="425.4" y="1192.3" class="e g">Theo địa phương</text>
<text x="615.5" y="1226" class="e d">5.4.3. Đánh giá hiệu suất team sale</text>
<text x="425.4" y="1214.5" class="e g">Tính theo doanh thu</text>
<text x="425.4" y="1237.2" class="e g">Tính toán hoa hồng cho team và cá nhân</text>
</g>
<g id="u-sanpham">
<rect x="667.8" y="1261.5" width="141.6" height="17" rx="3" class="box"/>
<text x="675.5" y="1270" class="r"><tspan class="l">6. </tspan>Sản phẩm - Dịch vụ - Dự án</text>
<text x="628.2" y="1259.3" class="e k">6.1. Quản lý, lưu trữ thông tin chương trình đào tạo</text>
<text x="628.2" y="1281.5" class="e k">6.2. Phát triển các chương trình đào tạo mới</text>
</g>
</g>

<g id="data-fusion">
<g id="d-bqt">
<text x="801.7" y="1313.2" class="e r">Ban quản trị</text>
<text x="702.9" y="1313.2" class="e p B">Hệ thống thông tin quản trị MIS tập trung</text>
</g>
<g id="d-hcns">
<text x="801.7" y="1502.7" class="e r">Phòng Hành chính - Nhân sự</text>
<text x="632.7" y="1357.6" class="e k">3.2. HRIS - Quản lý nhân sự - chấm công - tính lương - báo lương tự động</text>
<text x="271" y="1335.4" class="e g">Chi phí lương toàn bộ doanh nghiệp theo từng tháng</text>
<text x="271" y="1357.6" class="e b">Số ngày công từng nhân sự, đối chiếu với hiệu quả làm việc</text>
<text x="271" y="1380.2" class="e p">Tỉ lệ nghỉ phép từng nhân sự, phát hiện dấu hiệu bất thường</text>
<text x="632.7" y="1424.6" class="e k">3.3. APR - Quản lý thủ tục hành chính tự động</text>
<text x="387.1" y="1402.4" class="e p">Số thủ tục hành chính hàng tuần, hàng tháng, hàng năm</text>
<text x="387.1" y="1424.6" class="e p">Tỉ lệ được phê duyệt - từ chối theo từng thành phần, bộ phận</text>
<text x="387.1" y="1447.2" class="e p">Thời gian phê duyệt trung bình</text>
<text x="632.7" y="1480.5" class="e k">3.4. KMS - Hệ thống quản lý tri thức nội bộ</text>
<text x="402.5" y="1469.4" class="e b">Chỉ số học tập và phát triển từng nhân sự</text>
<text x="402.5" y="1491.6" class="e b">Thống kê thời gian đào tạo - chia sẻ nội bộ cho từng nhân sự</text>
<text x="630" y="1547.5" class="e k">3.5. PMS - Quản lý chi tiết công việc và chất lượng nhân sự</text>
<text x="329.7" y="1513.7" class="e g">Cập nhật tỉ lệ hoàn thành mục tiêu từng nhân sự</text>
<text x="329.7" y="1536.4" class="e g">Tổng số công việc đã và đang làm của từng nhân sự</text>
<text x="329.7" y="1558.6" class="e g">Tỉ lệ và số công việc làm đúng hạn</text>
<text x="329.7" y="1580.8" class="e g">Tổng thời gian làm việc trong chu kỳ (tuần, tháng, năm)</text>
<text x="632.7" y="1647.8" class="e k">3.6. ATS - Hệ thống tuyển dụng tự động</text>
<text x="415.2" y="1603.4" class="e p">Thời gian trung bình tuyển dụng thành công</text>
<text x="415.2" y="1625.6" class="e p">Số ứng viên ứng tuyển theo tháng, theo vị trí</text>
<text x="415.2" y="1647.8" class="e p">Số lượng và tỉ lệ nguồn tuyển dụng</text>
<text x="415.2" y="1670.4" class="e p">Số lượng và tỉ lệ địa phương - Quê quán của ứng viên</text>
<text x="415.2" y="1692.6" class="e p">Hệ thống phản hồi của ứng viên</text>
</g>
<g id="d-tckt">
<text x="801.7" y="1870.4" class="e r">Phòng Tài chính - Kế toán</text>
<text x="644.2" y="1748" class="e k">•  Báo cáo tài chính</text>
<text x="509.6" y="1714.3" class="e g">Báo cáo thu nhập</text>
<text x="509.6" y="1736.9" class="e g">Báo cáo lãi lỗ</text>
<text x="509.6" y="1759.6" class="e g">Bảng cân đối kế toán</text>
<text x="509.6" y="1781.3" class="e g">Báo cáo dòng tiền</text>
<text x="644.2" y="1870.4" class="e k">•  Phân tích tỉ lệ và quản lý chi phí cho từng đơn vị</text>
<text x="373.8" y="1804" class="e b">Chi phí cố định</text>
<text x="373.8" y="1826.1" class="e b">Chi phí biến đổi</text>
<text x="373.8" y="1848.3" class="e b">Chi phí vận hành</text>
<text x="373.8" y="1871" class="e b">Quản lý ngân sách</text>
<text x="373.8" y="1893.1" class="e b">Chi phí bán hàng</text>
<text x="373.8" y="1915.3" class="e b">Chi phí quản lý</text>
<text x="373.8" y="1938.2" class="e b">Chi phí bất thường</text>
<text x="644.2" y="2004.5" class="e k">•  Phân tích tỉ lệ và quản lý doanh thu cho từng đơn vị</text>
<text x="357.8" y="1971.3" class="e b">Doanh thu từ học phí</text>
<text x="225.1" y="1960.1" class="e b">Online</text>
<text x="225.1" y="1982.6" class="e b">Offline</text>
<text x="357.8" y="2004.5" class="e b">Doanh thu từ hợp đồng dịch vụ</text>
<text x="357.8" y="2027" class="e b">Doanh thu từ lãi suất</text>
<text x="357.8" y="2049.4" class="e b">Doanh thu từ hoạt động không thường xuyên</text>
</g>
<g id="d-dv">
<text x="801.7" y="2071.3" class="e r">Phòng Dịch vụ - Sản phẩm - Dự án</text>
<text x="609.1" y="2071.3" class="e k">•  Quản lý dự án phát triển sản phẩm mới</text>
<text x="377" y="2071.3" class="e p">Các chỉ số cần thiết (tài chính, vật tư, tiến độ...)</text>
</g>
<g id="d-sale">
<text x="801.7" y="2193.3" class="e r">Sale</text>
<text x="737.3" y="2127.4" class="e k">•  Thông tin khách hàng</text>
<text x="581.7" y="2093.8" class="e g">Danh sách học viên</text>
<text x="581.7" y="2116.2" class="e g">Thông tin liên lạc</text>
<text x="581.7" y="2138.7" class="e b">Nhu cầu và phản hồi</text>
<text x="581.7" y="2161.1" class="e g">Lịch sử học tập</text>
<text x="739.8" y="2258.6" class="e k">•  Thông tin bán hàng</text>
<text x="593.8" y="2199.9" class="e g">Báo cáo và phân tích doanh thu bán hàng</text>
<text x="374.4" y="2183.6" class="e g">Online</text>
<text x="303.6" y="2183.6" class="e g">Các kênh thu học phí</text>
<text x="374.4" y="2216.7" class="e g">Offline</text>
<text x="303.6" y="2205.5" class="e g">Tiền mặt tại trung tâm</text>
<text x="303.6" y="2228" class="e g">Phần mềm + Pos bán hàng</text>
<text x="593.8" y="2250.4" class="e g">Tỉ lệ đạt doanh số theo mục tiêu</text>
<text x="593.8" y="2272.3" class="e p">Tỉ lệ lợi nhuận - ước tính lợi nhuận</text>
<text x="593.8" y="2294.8" class="e g">Tỷ lệ chuyển đổi</text>
<text x="593.8" y="2317.2" class="e p">Hệ số chênh lệch hiệu quả của các nhân viên sale</text>
</g>
<g id="d-marketing">
<text x="801.7" y="2467.2" class="e r">Marketing</text>
<text x="712.4" y="2350.4" class="e k">•  Phân tích dữ liệu thị trường</text>
<text x="532" y="2339.7" class="e p">Nghiên cứu thị trường</text>
<text x="532" y="2362.1" class="e p">Xu hướng thị trường</text>
<text x="712.4" y="2417.2" class="e k">•  Phân tích kết quả làm Content</text>
<text x="517.9" y="2384.1" class="e g">Số lượng content theo chu kỳ</text>
<text x="517.9" y="2406.5" class="e g">Số lượng content theo từng loại</text>
<text x="517.9" y="2428.5" class="e g">Tỉ lệ đạt mục tiêu</text>
<text x="517.9" y="2450.9" class="e g">Số lượng content theo nhân sự</text>
<text x="712.4" y="2495.3" class="e k">Phân tích theo campaign</text>
<text x="557.4" y="2473.4" class="e b">Chi phí từng chiến dịch</text>
<text x="557.4" y="2495.3" class="e b">Hiệu quả lượt xem/chi phí bỏ ra</text>
<text x="557.4" y="2517.8" class="e b">Chi phí/khách chuyển đổi</text>
<text x="712.4" y="2584.6" class="e k">Phân tích chi phí marketing và chạy Ads</text>
<text x="491.7" y="2540.2" class="e p">Số liệu theo từng kênh</text>
<text x="491.7" y="2562.6" class="e p">Số liệu chi phí theo sản phẩm, nhóm sản phẩm</text>
<text x="491.7" y="2585.1" class="e p">Số liệu chi phí theo dịch vụ, nhóm dịch vụ</text>
<text x="491.7" y="2607.5" class="e p">Số liệu chi phí theo địa phương</text>
<text x="491.7" y="2629.5" class="e p">Thống kê chi phí/lead</text>
</g>
<g id="d-phoihop">
<text x="801.7" y="2673.9" class="e r">Phối hợp phân tích liên phòng ban</text>
<text x="605.3" y="2651.4" class="e p B">Tỉ lệ chi phí các phòng ban</text>
<text x="605.3" y="2673.9" class="e p B">Tỉ lệ hiệu quả các phòng ban</text>
<text x="605.3" y="2696.3" class="e p B">Các thông số về thời gian phối hợp làm việc</text>
</g>
</g>

<g id="core-fusion">
<g id="c1">
<text x="1396" y="135.8" class="r"><tspan class="l">1. </tspan>Giao tiếp</text>
<text x="1489.7" y="83.1" class="k">1.1. Chat nội bộ - chatbot</text>
<text x="1645.9" y="56.2" class="g">Thiết lập các kênh Chat nội bộ</text>
<text x="1817.2" y="22.9" class="g">Toàn bộ doanh nghiệp</text>
<text x="1817.2" y="45.3" class="g">Theo team, ưu tiên team kinh doanh + marketing</text>
<text x="1817.2" y="67.6" class="g">Theo chi nhánh</text>
<text x="1817.2" y="89" class="g s8">Team đào tạo + chăm sóc học viên</text>
<text x="1645.9" y="110.4" class="g">Tích hợp chatbot để nhận thông tin (liên kết đến các file dữ liệu, làm việc...)</text>
<text x="1489.7" y="143.7" class="k">1.2. Email</text>
<text x="1577.3" y="132.3" class="g">Thiết lập email nội bộ</text>
<text x="1577.3" y="155.2" class="g">Kết nối hệ thống email từ bên ngoài</text>
<text x="1489.7" y="188.5" class="k">1.3. Meeting</text>
<text x="1588.2" y="177.6" class="g">Xây quy chuẩn sử dụng</text>
<text x="1588.2" y="199.5" class="g">Tài liệu hướng dẫn sử dụng đi kèm</text>
</g>
<g id="c2">
<text x="1396" y="372.6" class="r"><tspan class="l">2. </tspan>Tạo - Lưu trữ - Chia sẻ tài liệu</text>
<text x="1578.6" y="244.2" class="k">2.1. Xây dựng nguyên tắc đặt tên dữ liệu</text>
<text x="1800.7" y="221.8" class="g">Cách đặt tên và cấu trúc folder</text>
<text x="1800.7" y="244.2" class="g">Cách đặt tên file</text>
<text x="1800.7" y="266.6" class="g">Sao lưu dữ liệu</text>
<text x="1578.6" y="289" class="k">2.2. Thiết lập hệ thống folder trên Lark Drive</text>
<text x="1820.2" y="289" class="g">Xây dựng hệ thống cấu trúc folder theo mẫu, để lưu dữ liệu</text>
<text x="1578.6" y="389" class="k">2.3. Docs - tạo và quản lý file</text>
<text x="1749" y="380.5" class="g">Đào tạo nhân viên về từng thành phần</text>
<line class="bar" x1="1749.5" y1="390" x2="1749.5" y2="403"/>
<text x="1754.7" y="396.4" style="fill:#9a9a9a">Folder Lark Academy</text>
<text x="1954.2" y="311.4" class="g">Lark Docs</text>
<text x="1954.2" y="333.3" class="g">Sheet</text>
<text x="1954.2" y="356.1" class="g">Slides</text>
<text x="1954.2" y="378.5" class="g">Base</text>
<text x="1954.2" y="400.4" class="g">Form</text>
<text x="1954.2" y="422.8" class="g">Mindnotes</text>
<text x="1954.2" y="445.2" class="g">Board</text>
<text x="1954.2" y="467.6" class="g">Flowchart</text>
<text x="1578.6" y="500.9" class="k">2.4. Giải pháp phân quyền</text>
<text x="1738.2" y="490" class="g">Chia quyền theo phòng ban và folder</text>
<text x="1738.2" y="511.8" class="g">Chia sẻ, phân quyền nội bộ và bên ngoài</text>
</g>
<g id="c3">
<text x="1396" y="1061.2" class="r"><tspan class="l">3. </tspan>Quản lý dự án và công việc theo quy trình</text>
<line class="bar" x1="1391.7" y1="1069.5" x2="1391.7" y2="1083"/>
<text x="1397.3" y="1076.3" class="n">Xây dựng quy trình và áp dụng vào các công việc cụ thể ở các file</text>
<text x="1711.8" y="860.7" class="k">3.1. Xây dựng bộ mẫu quy trình lĩnh vực đào tạo</text>
<line class="bar" x1="1712" y1="868.5" x2="1712" y2="882"/>
<text x="1717.4" y="875.3" class="n">Chia sẻ mẫu có sẵn</text>
<text x="1967.2" y="568" class="d">3.1.1. Ban quản trị - BoD</text>
<text x="2112.4" y="556.6" class="g">Quy trình phân tích báo cáo</text>
<text x="2112.4" y="579" class="g">Quy trình lên kế hoạch, chiến lược</text>
<text x="1967.2" y="701.3" class="d">3.1.2. Tài chính - Kế toán</text>
<text x="2114.1" y="601.4" class="g">Quản lý kế toán tổng hợp</text>
<text x="2114.1" y="623.2" class="g">Quản lý công nợ phải thu</text>
<text x="2114.1" y="645.6" class="g">Quản lý công nợ phải trả</text>
<text x="2114.1" y="668" class="g">Quản lý tiền mặt và ngân hàng</text>
<text x="2114.1" y="690.4" class="g">Quản lý kế toán chi phí</text>
<text x="2114.1" y="712.3" class="g">Quản lý thuế</text>
<text x="2114.1" y="734.6" class="g">Quản lý tài sản cố định</text>
<text x="2114.1" y="757" class="g">Lập kế hoạch tài chính</text>
<text x="2114.1" y="780" class="g">Quản lý ngân sách</text>
<text x="2114.1" y="802.2" class="g">Quản lý dòng tiền</text>
<text x="1967.2" y="879.8" class="d">3.1.3. Human resource _ Hành chính - nhân sự</text>
<text x="2204.7" y="824.4" class="g">Quy trình Onboarding chi tiết cho nhân sự</text>
<text x="2204.7" y="847.1" class="g">Quản lý hệ thống thông tin nhân sự</text>
<text x="2204.7" y="869.2" class="g">Quản lý tiền lương và phúc lợi</text>
<text x="2204.7" y="891.4" class="g">Quản lý đào tạo và phát triển</text>
<text x="2204.7" y="913.6" class="g">Quản lý quy trình - thủ tục hành chính</text>
<text x="2204.7" y="936.3" class="g">Quản lý tuyển dụng</text>
<text x="1967.2" y="1002.8" class="d">3.1.4. Marketing</text>
<text x="2078.4" y="958.4" class="g">Quản lý nội dung</text>
<text x="2078.4" y="980.6" class="g">Quản lý chiến dịch quảng cáo</text>
<text x="2078.4" y="1002.8" class="g">Quản lý lộ trình SEO</text>
<text x="2078.4" y="1025.4" class="g">Quản lý chiến dịch Marketing</text>
<text x="2078.4" y="1047.6" class="g">Quản lý email marketing</text>
<text x="1967.2" y="1114.6" class="d">3.1.5. Sale</text>
<text x="2053.8" y="1069.8" class="g">Quản lý bán hàng</text>
<text x="2053.8" y="1092.4" class="g">Quản lý đơn hàng và hợp đồng</text>
<text x="2053.8" y="1114.6" class="g">Quản lý khách hàng</text>
<text x="2053.8" y="1136.8" class="g">Quản lý dịch vụ khách hàng</text>
<text x="2053.8" y="1159.4" class="g">Quản lý quan hệ đối tác</text>
<text x="1967.2" y="1203.3" class="d">3.1.6. Sản phẩm - Dịch vụ - Dự án</text>
<text x="2148.6" y="1181.6" class="g">Quản lý tiến độ phát triển chương trình học mới</text>
<text x="2148.6" y="1225.9" class="g">Quản lý tiến độ các lớp học</text>
<text x="2306.4" y="1203.3" class="g">Trước khi học</text>
<text x="2306.4" y="1225.9" class="g">Trong khi học</text>
<text x="2306.4" y="1248.6" class="g">Sau khi học</text>
<text x="2406.9" y="1203.3" class="g">Gửi tài liệu trước, nhắc nhở lịch học</text>
<text x="2407.7" y="1225.9" class="g">Gửi tài liệu tự động (xây dựng hệ thống tài liệu online trên Lark Docs)</text>
<text x="2398.7" y="1248.6" class="g">Gửi tài liệu tự động (xây dựng hệ thống tài liệu online trên Lark Docs)</text>
<text x="1711.8" y="1270.3" class="k">3.3. Quy trình làm việc liên phòng ban</text>
<text x="1924.3" y="1270.3" class="g">Mẫu quy trình phối hợp phòng sale, marketing và kế toán</text>
</g>
<g id="c4">
<text x="1396" y="1576.9" class="r"><tspan class="l">4. </tspan>Quản lý nhân sự</text>
<text x="1521" y="1304" class="k">4.1. ONB - Đào tạo hội nhập Onboarding cho nhân sự mới</text>
<text x="1818" y="1292.9" class="g">Quy trình đào tạo hội nhập Onboarding cho nhân sự mới</text>
<text x="1818" y="1315.6" class="g">Mẫu Policy áp dụng cho toàn bộ doanh nghiệp</text>
<text x="1521" y="1347.9" class="k">4.2. HRIS - Quản lý nhân sự - chấm công - tính lương - báo lương tự động</text>
<text x="1882.2" y="1337.3" class="g">Xây dựng File quản lý nhân sự - chấm công - tính lương - báo lương</text>
<text x="1882.2" y="1358.9" class="g s8">File quy trình quản lý nhân sự theo mô hình vòng đời</text>
<text x="1521" y="1457.7" class="k">4.3. APR - Quản lý thủ tục hành chính - phê duyệt tự động</text>
<text x="1818" y="1457.7" class="g">Xây dựng các quy trình Approval theo mẫu có sẵn và thực hiện trên Approval</text>
<text x="2184.4" y="1380.6" class="g">Đề nghị chi tiền nội bộ</text>
<text x="2184.4" y="1402.8" class="g">Xin nghỉ phép</text>
<text x="2184.4" y="1425" class="g">Xin về sớm</text>
<text x="2184.4" y="1447.6" class="g">Xin ứng lương</text>
<text x="2184.4" y="1468.8" class="g s8">Đề nghị mua sắm trang thiết bị</text>
<text x="2184.4" y="1490.4" class="g">Đề nghị chính sách bảo hiểm</text>
<text x="2184.4" y="1512.6" class="g">Đề nghị chính sách hỗ trợ khác....</text>
<text x="1521" y="1557.5" class="k">4.4. KMS - Hệ thống quản lý tri thức nội bộ</text>
<text x="1751.7" y="1557.5" class="g">Cung cấp mẫu và cách làm để thu thập và tích lũy tri thức</text>
<text x="1521" y="1739.5" class="k">4.5. PMS - Quản lý chi tiết công việc và chất lượng nhân sự</text>
<text x="1823.2" y="1654.5" class="g">Xây dựng mô hình phân tách công việc WBS</text>
<line class="bar" x1="1823.5" y1="1662.5" x2="1823.5" y2="1676.5"/>
<text x="1830.2" y="1669.9" class="n">Tài liệu mẫu cách chia WBS các thành phần</text>
<text x="2056" y="1613.2" class="g">Theo công việc</text>
<text x="2162.4" y="1579.8" class="g">Chăm sóc học viên tại trung tâm</text>
<text x="2162.4" y="1602.2" class="g">Quản lý Marketing</text>
<text x="2162.4" y="1624.6" class="g">Vận hành trung tâm đào tạo</text>
<text x="2162.4" y="1646.5" class="g">Quản lý tài chính</text>
<text x="2056" y="1679.8" class="g">Theo dự án</text>
<text x="2146.5" y="1668.9" class="g">Triển khai 1 khóa đào tạo online</text>
<text x="2146.5" y="1691.3" class="g">Triển khai 1 khóa đào tạo offline</text>
<text x="2056" y="1713.6" class="g">Theo mục tiêu</text>
<text x="2159.4" y="1713.6" class="g">Sale và chốt học viên</text>
<text x="1823.2" y="1764.9" class="g">Quản lý kết quả công việc theo mục tiêu (có thể quản lý task hoặc công việc</text>
<text x="1823.2" y="1778.3" class="g">riêng phòng ban)</text>
<text x="2187.4" y="1736" class="g">Các thông tin KPIs, tích hợp trên các file công việc chuyên môn (sale,</text>
<text x="2187.4" y="1749" class="g">marketing...)</text>
<text x="2187.4" y="1771.3" class="g">Đánh giá chất lượng nhân sự trên các file quản lý mục tiêu (KPIs, OKRs...)</text>
<text x="1823.2" y="1816.1" class="g">Tính toán thu nhập bổ sung cho nhân sự thông qua kết quả làm việc</text>
<text x="2153.8" y="1816.1" class="g">Kết nối dữ liệu về lương và bộ phận tài chính</text>
<text x="1521" y="1849.4" class="k">4.6. ATS - Hệ thống tuyển dụng tự động</text>
<text x="1738.7" y="1838.5" class="g">Ứng dụng mẫu tuyển dụng đã có, điều chỉnh theo nhu cầu thực</text>
<text x="1738.7" y="1860.9" class="g">File UML quy trình tuyển dụng nhân sự</text>
</g>
<g id="c5">
<text x="1396" y="1907.6" class="r"><tspan class="l">5. </tspan>Phân tích dữ liệu</text>
<line class="bar" x1="1391.7" y1="1916" x2="1391.7" y2="1930"/>
<text x="1397.3" y="1923" class="n">Phần này liên kết với toàn bộ Data.Fusion</text>
<text x="1615.5" y="1916" class="g B">Cấu trúc để tạo đồ thị thống kê trên các file</text>
<text x="1855" y="1882.8" class="g">•</text><text x="1866.2" y="1882.8" class="g">Hệ thống báo cáo kết quả kinh doanh</text>
<text x="1855" y="1905.1" class="g">•</text><text x="1866.2" y="1905.1" class="g">Hệ thống báo cáo chất lượng nhân sự</text>
<text x="1855" y="1927.5" class="g">•</text><text x="1866.2" y="1927.5" class="g">Hệ thống báo cáo tài chính tập trung</text>
<text x="1855" y="1949.9" class="g">•</text><text x="1866.2" y="1949.9" class="g">Hệ thống báo cáo marketing tập trung</text>
</g>
<g id="c6">
<text x="1396" y="1972.3" class="r"><tspan class="l">6. </tspan>Quản lý kiến thức kinh nghiệm</text>
<line class="bar" x1="1391.7" y1="1980.5" x2="1391.7" y2="1994.5"/>
<text x="1397.3" y="1987.7" class="n">Phần này đồng bộ với KMS ở phần quản lý nhân sự</text>
</g>
<g id="c7">
<text x="1396" y="2308.5" class="r"><tspan class="l">7. </tspan>Quan hệ khách hàng</text>
<text x="1540.9" y="2071.3" class="k">7.1. Quản lý dữ liệu khách hàng trên CDP (Customer Data Platform)</text>
<text x="1883.5" y="2019.5" class="g">Thu thập, tổng hợp dữ liệu từ nhiều nguồn khác nhau, tạo thành một nền tảng</text>
<text x="1883.5" y="2032.5" class="g">dữ liệu khách hàng hợp nhất, hoàn chỉnh.</text>
<line class="bar" x1="1884" y1="2041" x2="1884" y2="2055"/>
<text x="1889.6" y="2047.9" class="n">Chia sẻ mẫu file CRM</text>
<text x="2258.6" y="2012.6" class="g">Zalo</text>
<text x="2258.6" y="2035" class="g">Trực tiếp</text>
<text x="2258.6" y="2057.4" class="g">Fanpage</text>
<text x="1883.5" y="2079.2" class="g">Quản lý, chuẩn hóa thông tin học viên theo mẫu</text>
<text x="1883.5" y="2108.6" class="g">Quản lý học phí</text>
<text x="1992.8" y="2102.1" class="g">Xây dựng hệ thống quản lý học phí trên 1 file duy nhất, đồng bộ dữ liệu với file</text>
<text x="1992.8" y="2115" class="g">quản lý học viên</text>
<text x="1540.9" y="2209.6" class="k">7.2. Quản lý quy trình tư vấn và chốt khóa học</text>
<text x="1788.5" y="2170.3" class="g">Dựa vào CDP, phân chia lead học viên cho sale</text>
<text x="2027.5" y="2137.4" class="g">Chia theo thứ tự</text>
<text x="2027.5" y="2159.3" class="g">Chia ngẫu nhiên</text>
<text x="2027.5" y="2181.7" class="g">Chia theo tỉ lệ, tùy năng lực nhân sự</text>
<text x="2027.5" y="2204.1" class="g">Chia theo ngày có ca trực</text>
<text x="1788.5" y="2226.5" class="g">Theo dõi quy trình chốt sale từ tiếp cận đến chốt đăng ký</text>
<text x="1788.5" y="2248.3" class="g">Xử lý thanh toán và lập hóa đơn.</text>
<text x="1540.9" y="2373.3" class="k">7.3. Quản lý tương tác với khách hàng (Customer Relationship Management</text>
<text x="1540.9" y="2386.1" class="k">- CRM)</text>
<text x="1923.4" y="2313.3" class="g">Kết nối các ứng dụng bên ngoài chăm sóc học viên tự động</text>
<text x="2214.2" y="2271.2" class="g">Xây dựng và quản lý kịch bản chăm sóc học viên, làm căn cứ xây dựng và tách</text>
<text x="2214.2" y="2284.7" class="g">bảng trên Base</text>
<text x="2214.2" y="2306.6" class="b">Email: Sử dụng dịch vụ email trung gian như Sendgrid, MailChimp kết nối với</text>
<text x="2214.2" y="2320" class="b">Base để thao tác trên Base và có thể gửi email theo mẫu định sẵn</text>
<text x="2214.2" y="2341.9" class="b">Zalo (Cần có Zalo OA. Phát sinh chi phí đấu nối, gửi tin):</text>
<text x="2221" y="2355.2" class="b">•</text><text x="2229.7" y="2355.2" class="b">Xây app kết nối Zalo với Base để thao tác trên Base và có thể gửi email theo</text>
<text x="2229.7" y="2368.5" class="b">mẫu định sẵn.</text>
<text x="1923.4" y="2437.5" class="b">Kịch bản chăm sóc khách tự động hoặc bán tự động</text>
<line class="bar" x1="1924" y1="2446" x2="1924" y2="2460"/>
<text x="1929.5" y="2452.7" class="n">Xây dựng mẫu có sẵn theo các nền tảng</text>
<text x="2184.4" y="2390.9" class="b">Cảm ơn học viên sau khi chốt khóa học</text>
<text x="2184.4" y="2413.2" class="b">Xác nhận với học viên sau mỗi lần thanh toán</text>
<text x="2184.4" y="2435.6" class="b">Chúc mừng, hỏi thăm học viên nhân các dịp lễ</text>
<text x="2184.4" y="2457.5" class="b">Chúc mừng sinh nhật</text>
<text x="2184.4" y="2479.9" class="b">Cung cấp thông tin hỗ trợ</text>
<text x="2184.4" y="2502.2" class="b">Nhắc nhở học viênc các thông tin về chuyên môn định kỳ trong năm</text>
<text x="1540.9" y="2545.5" class="k">7.4. Quản lý trải nghiệm khách hàng</text>
<text x="1745.2" y="2524.6" class="b">Thu thập phản hồi và phân tích dữ liệu về trải nghiệm của học viên: Sử dụng</text>
<text x="1745.2" y="2537.9" class="b">form trên Lark gửi cho học viên đã học xong.</text>
<text x="1745.2" y="2560.3" class="b">Hỗ trợ học viên dài hạn sau đào tạo</text>
</g>
<g id="c8">
<text x="1396" y="2706.3" class="r"><tspan class="l">8. </tspan>Công cụ tự động hóa và AI</text>
<text x="1564.8" y="2593.6" class="k">8.1. Tự động hóa xử lý dữ liệu thông qua Anycross</text>
<text x="1828" y="2582.6" class="g">Lấy thông tin chấm công để tính lương</text>
<text x="1828" y="2605" class="g">Đồng bộ dữ liệu giữa các file Base khi dùng bản Lark miễn phí</text>
<text x="1564.8" y="2819.1" class="k">8.2. Các công cụ tự động hóa có sẵn ở Lark Base</text>
<text x="1818.5" y="2627.4" class="d">Ban quản trị</text>
<text x="1913.9" y="2627.4" class="b">Tự động gửi các đồ thị báo cáo theo thời gian định kỳ</text>
<text x="1818.5" y="2750.1" class="d">Nhân sự</text>
<text x="1896.1" y="2683" class="d">ATS</text>
<text x="1957.5" y="2649.2" class="g">Tự động thông báo đến leader khi HR cập nhật hồ sơ ứng viên mới</text>
<text x="1956.8" y="2671.6" class="g">Tự động thông báo đến HR khi leader quyết định phỏng vấn</text>
<text x="1956.8" y="2694" class="g">Tự động báo với cả team khi có thành viên mới tham gia team</text>
<text x="1956.8" y="2716.3" class="b">Tự động gửi email cảm ơn ứng viên khi có hồ sơ mới nhập vào</text>
<text x="1896.1" y="2749.6" class="d">HRIS</text>
<text x="1962" y="2738.7" class="g">Tự động gửi thông báo lương cho nhân viên và cho xác nhận</text>
<text x="1962" y="2761.1" class="b">Tự động tương tác với ứng viên theo thời gian và mô hình vòng đời nhân sự</text>
<text x="1896.1" y="2816.7" class="d">PMS</text>
<text x="1960.3" y="2783.4" class="g">Tự động thông báo khi nhân viên cập nhật báo cáo công việc</text>
<text x="1960.3" y="2805.8" class="g">Tự động gửi báo cáo và xếp hạng nhân viên theo chu kỳ</text>
<text x="1960.3" y="2828.1" class="g">Tự động nhắc nhở nhân viên nhập báo cáo khi đến hạn</text>
<text x="1960.3" y="2850.5" class="g">Tự động nhắc nhở nhân viên hoàn thiện task khi gần đến deadline</text>
<text x="1818.5" y="2886.7" class="d">Tài chính</text>
<text x="1900.4" y="2872.9" class="g">Tự động gửi thông tin đến các bộ phận liên quan khi có yêu cầu thu/chi</text>
<text x="1900.4" y="2894.8" class="g">Tự động gửi thông tin đến nhân sự liên quan khi bộ phận tài chính đã thực hiện</text>
<text x="1900.4" y="2908.1" class="g">thanh toán</text>
<text x="1818.5" y="2941.4" class="d">Kinh doanh</text>
<text x="1910.4" y="2930.4" class="g">Tự động thông báo với nhóm khi có học viên mới được nhập vào</text>
<text x="1910.4" y="2952.8" class="g">Tự động thông báo cho nhân viên sale về kết quả kinh doanh</text>
<text x="1818.5" y="2975.2" class="d">Marketing</text>
<text x="1904.8" y="2975.2" class="g">Tự động tổng kết chi phí marketing theo kênh và theo chu kỳ thời gian</text>
<text x="1818.5" y="3011.3" class="d">Sản phẩm - dịch vụ - dự án</text>
<text x="1974.2" y="2997.5" class="g">Tự động thông báo đến bộ phận liên quan khi có đơn hàng</text>
<text x="1974.2" y="3019.9" class="g">Tự động cảnh báo đến bộ phận quản lý khi số sản phẩm (sách, tài liệu) trong kho</text>
<text x="1974.2" y="3032.7" class="g">dưới hạn mức</text>
</g>
</g>
</svg>
